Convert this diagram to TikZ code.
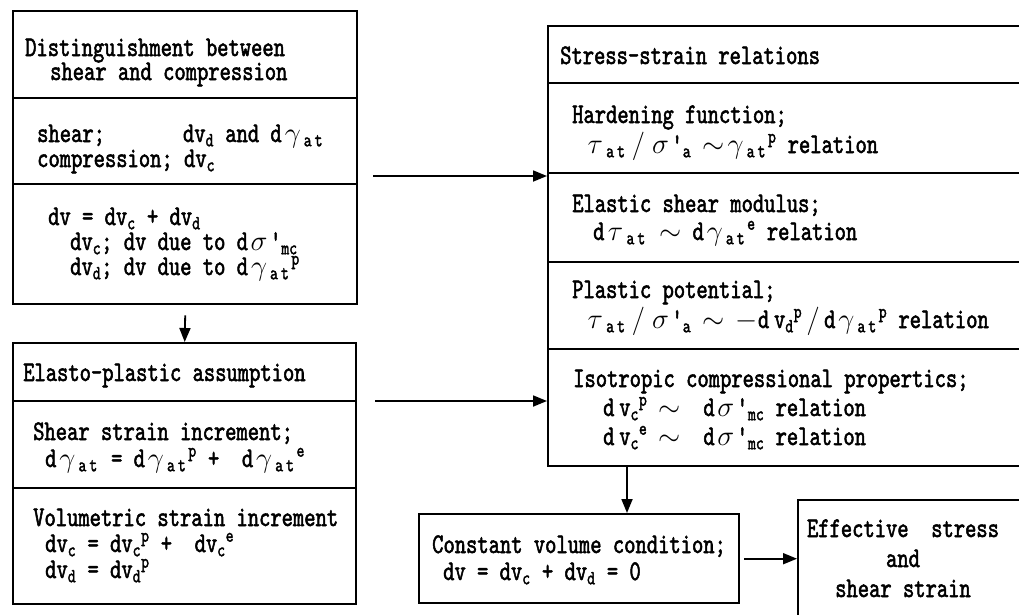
\documentclass[tikz,border=0pt]{standalone}
\usepackage{fix-cm}
\usepackage{fontspec}
\usetikzlibrary{arrows.meta}
\newfontfamily\flowfont[FakeStretch=0.755,FakeBold=1.8]{lmmono10-regular.otf}
\newcommand{\sbs}[1]{\textsubscript{#1}}
\newcommand{\sps}[1]{\textsuperscript{#1}}
\newcommand{\gk}[1]{\makebox[22pt]{$#1$}}
\newcommand{\at}{\sbs{a\kern3pt t\kern2pt}}

\begin{document}
\begin{tikzpicture}[x=1pt,y=-1pt,
	>={Triangle[length=14pt,width=11pt]},
	frame/.style={draw, line width=2.4pt, anchor=north west, inner sep=0pt},
	rule/.style={line width=2pt},
	txt/.style={anchor=base west, inner sep=0pt, align=left,
		font=\flowfont\fontsize{28.5}{#1}\selectfont},
	txt/.default=26,
	flow/.style={->, line width=1.8pt}]
	\useasboundingbox (0,0) rectangle (1019,614);

	% frames
	\node[frame, minimum width=344pt, minimum height=293pt] (dist) at (12,10) {};
	\node[frame, minimum width=343pt, minimum height=261pt] (elasto) at (12,342) {};
	\node[frame, minimum width=495pt, minimum height=440pt] (stress) at (547,25) {};
	\node[frame, minimum width=320pt, minimum height=89pt] (const) at (418,513) {};
	\node[frame, minimum width=250pt, minimum height=140pt] (effect) at (797,499) {};

	% section rules
	\foreach \y in {98,184}
		\draw[rule] (12,\y) -- (356,\y);
	\foreach \y in {401,488}
		\draw[rule] (12,\y) -- (355,\y);
	\foreach \y in {83,173,262,349}
		\draw[rule] (547,\y) -- (1042,\y);

	% left column (base = last line)
	\node[txt=24] (distT) at (25,80) {Distinguishment between\\\hspace*{25pt}shear and compression};
	\node[txt=25] (distS) at (37,167) {shear;\hspace{78pt}dv\sbs{d} and d\gk{\gamma}\at\\compression; dv\sbs{c}};
	\node[txt=25] (distV) at (48,275) {dv = dv\sbs{c} + dv\sbs{d}\\
		\hspace*{22pt}dv\sbs{c}; dv due to d\gk{\sigma}'\sbs{mc}\\
		\hspace*{22pt}dv\sbs{d}; dv due to d\gk{\gamma}\at\sps{p}};

	\node[txt] (elastoT) at (23,381) {Elasto-plastic assumption};
	\node[txt=27] (elastoS) at (33,467) {Shear strain increment;\\
		\hspace*{12pt}d\gk{\gamma}\at{} = d\gk{\gamma}\at\sps{p} + \ d\gk{\gamma}\at\sps{e}};
	\node[txt=26] (elastoV) at (33,578) {Volumetric strain increment\\
		\hspace*{12pt}dv\sbs{c} = dv\sbs{c}\sps{p} + \ dv\sbs{c}\sps{e}\\
		\hspace*{12pt}dv\sbs{d} = dv\sbs{d}\sps{p}};

	% right column
	\node[txt] (stressT) at (560,64) {Stress-strain relations};
	\node[txt=30] (harden) at (572,153) {Hardening function;\\
		\hspace*{12pt}\gk{\tau}\at\gk{/}\gk{\sigma}'\sbs{a} $\sim$\gk{\gamma}\at\sps{p} relation};
	\node[txt=28] (modul) at (572,240) {Elastic shear modulus;\\
		\hspace*{21pt}d\gk{\tau}\at{} $\sim$ d\gk{\gamma}\at\sps{e} relation};
	\node[txt=30] (poten) at (572,328) {Plastic potential;\\
		\hspace*{12pt}\gk{\tau}\at\gk{/}\gk{\sigma}'\sbs{a} $\sim$ \gk{-}d\,v\sbs{d}\sps{p}\gk{/}d\gk{\gamma}\at\sps{p} relation};
	\node[txt=29] (isotr) at (573,445) {Isotropic compressional propertics;\\
		\hspace*{30pt}d\,v\sbs{c}\sps{p} $\sim$\ \ d\gk{\sigma}'\sbs{mc} relation\\
		\hspace*{30pt}d\,v\sbs{c}\sps{e} $\sim$\ \ d\gk{\sigma}'\sbs{mc} relation};

	\node[txt=27] (constT) at (432,580) {Constant volume condition;\\
		\hspace*{11pt}dv = dv\sbs{c} + dv\sbs{d} = 0};
	\node[txt=30, anchor=base, align=center] (effectT) at (903,597) {Effective\ \ stress\\and\\shear strain};

	% connectors
	\coordinate (a1) at (373,176);
	\coordinate (a2) at (375,401);
	\coordinate (a3) at (627,465);
	\draw[flow] ([yshift=-10pt]dist.south) -- (elasto.north);
	\draw[flow] (a1) -- (a1 -| stress.west);
	\draw[flow] (a2) -- (a2 -| stress.west);
	\draw[flow] (a3) -- (a3 |- const.north);
	\draw[flow] ([xshift=4pt]const.east) -- (const.east -| effect.west);
\end{tikzpicture}
\end{document}
